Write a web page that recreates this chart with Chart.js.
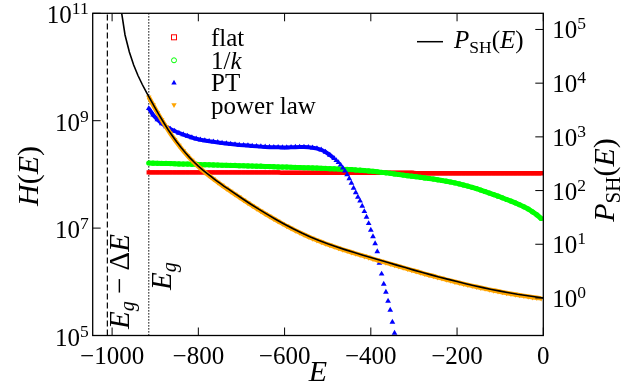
<!DOCTYPE html>
<html>
<head>
<meta charset="UTF-8">
<title>H(E) and P_SH(E)</title>
<script src="https://cdn.jsdelivr.net/npm/chart.js@4.4.1/dist/chart.umd.min.js"></script>
<style>
  html, body { margin: 0; padding: 0; background: #fff; }
  #wrap { width: 635px; height: 385px; }
</style>
</head>
<body>
<div id="wrap"><canvas id="chart" width="635" height="385"></canvas></div>
<script>
// energy grid shared by flat, 1/k and power law
const energy = [-915,-905,-895,-885,-875,-865,-855,-845,-835,-825,-815,-805,-795,-785,-775,-765,-755,-745,-735,-725,
  -715,-705,-695,-685,-675,-665,-655,-645,-635,-625,-615,-605,-595,-585,-575,-565,-555,-545,-535,-525,
  -515,-505,-495,-485,-475,-465,-455,-445,-435,-425,-415,-405,-395,-385,-375,-365,-355,-345,-335,-325,
  -315,-305,-295,-285,-275,-265,-255,-245,-235,-225,-215,-205,-195,-185,-175,-165,-155,-145,-135,-125,
  -115,-105,-95,-85,-75,-65,-55,-45,-35,-25,-15,-5];

const flat = [1.09e8,1.09e8,1.09e8,1.09e8,1.09e8,1.09e8,1.09e8,1.09e8,1.09e8,1.09e8,1.09e8,1.09e8,1.09e8,1.09e8,1.09e8,1.09e8,
  1.09e8,1.09e8,1.09e8,1.09e8,1.09e8,1.09e8,1.09e8,1.09e8,1.09e8,1.09e8,1.09e8,1.09e8,1.09e8,1.09e8,1.09e8,
  1.07e8,1.07e8,1.07e8,1.07e8,1.07e8,1.07e8,1.07e8,1.07e8,1.07e8,1.07e8,1.07e8,1.07e8,1.07e8,1.07e8,1.07e8,1.07e8,
  1.07e8,1.07e8,1.07e8,1.07e8,1.07e8,1.07e8,1.07e8,1.07e8,1.07e8,1.07e8,1.07e8,1.07e8,1.07e8,1.07e8,1.07e8,
  1.05e8,1.05e8,1.05e8,1.05e8,1.05e8,1.05e8,1.05e8,1.05e8,1.05e8,1.05e8,1.05e8,1.05e8,1.05e8,1.05e8,1.05e8,
  1.05e8,1.05e8,1.05e8,1.05e8,1.05e8,1.05e8,1.05e8,1.05e8,1.05e8,1.05e8,1.05e8,1.05e8,1.05e8,1.05e8,1.05e8];

const invK = [1.63e8,1.62e8,1.61e8,1.60e8,1.60e8,1.59e8,1.58e8,1.57e8,1.56e8,1.56e8,
  1.54e8,1.54e8,1.52e8,1.52e8,1.51e8,1.50e8,1.49e8,1.48e8,1.48e8,1.47e8,
  1.47e8,1.45e8,1.45e8,1.44e8,1.43e8,1.42e8,1.42e8,1.40e8,1.40e8,1.39e8,
  1.38e8,1.37e8,1.37e8,1.36e8,1.35e8,1.34e8,1.33e8,1.33e8,1.32e8,1.31e8,
  1.30e8,1.29e8,1.28e8,1.27e8,1.26e8,1.25e8,1.24e8,1.23e8,1.21e8,1.20e8,
  1.18e8,1.16e8,1.14e8,1.12e8,1.09e8,1.07e8,1.05e8,1.02e8,9.96e7,9.70e7,
  9.46e7,9.26e7,9.06e7,8.83e7,8.60e7,8.39e7,8.18e7,7.93e7,7.70e7,7.47e7,
  7.22e7,6.95e7,6.66e7,6.35e7,6.05e7,5.75e7,5.44e7,5.12e7,4.80e7,4.50e7,
  4.21e7,3.93e7,3.67e7,3.41e7,3.18e7,2.95e7,2.72e7,2.49e7,2.27e7,2.01e7,
  1.77e7,1.51e7];

const powerLaw = [2.75e9,1.97e9,1.42e9,1.04e9,7.68e8,5.79e8,4.44e8,3.46e8,2.74e8,2.22e8,
  1.82e8,1.52e8,1.29e8,1.10e8,9.48e7,8.21e7,7.14e7,6.24e7,5.47e7,4.83e7,
  4.26e7,3.76e7,3.33e7,2.94e7,2.61e7,2.32e7,2.07e7,1.85e7,1.66e7,1.49e7,
  1.34e7,1.21e7,1.09e7,9.91e6,9.03e6,8.25e6,7.57e6,6.95e6,6.41e6,5.94e6,
  5.52e6,5.14e6,4.81e6,4.51e6,4.24e6,3.99e6,3.76e6,3.55e6,3.35e6,3.17e6,
  3.00e6,2.84e6,2.68e6,2.54e6,2.40e6,2.28e6,2.16e6,2.05e6,1.94e6,1.84e6,
  1.74e6,1.65e6,1.57e6,1.49e6,1.41e6,1.34e6,1.28e6,1.21e6,1.16e6,1.10e6,
  1.05e6,1.00e6,9.59e5,9.16e5,8.77e5,8.41e5,8.07e5,7.74e5,7.45e5,7.16e5,
  6.90e5,6.65e5,6.41e5,6.19e5,6.00e5,5.81e5,5.64e5,5.47e5,5.31e5,5.16e5,
  5.03e5,4.91e5];

// PT has its own (finer near the drop) energy grid
const ptEnergy = [-915,-905,-895,-885,-875,-865,-855,-845,-835,-825,-815,-805,-795,-785,-775,-765,-755,-745,-735,-725,
  -715,-705,-695,-685,-675,-665,-655,-645,-635,-625,-615,-605,-595,-585,-575,-565,-555,-545,-535,-525,
  -515,-505,-495,-485,
  -480,-475,-470,-465,-460,-455,-450,-445,-440,-435,-430,-425,-420,-415,-410,-405,-400,-395,-390,-385,
  -380,-375,-370,-365,-360,-355,-350,-345];
const pt = [1.69e9,1.28e9,1.05e9,8.87e8,7.80e8,7.00e8,6.43e8,5.90e8,5.53e8,5.19e8,
  4.87e8,4.60e8,4.41e8,4.28e8,4.15e8,4.05e8,3.94e8,3.84e8,3.76e8,3.68e8,
  3.61e8,3.53e8,3.48e8,3.44e8,3.38e8,3.34e8,3.29e8,3.25e8,3.22e8,3.20e8,
  3.19e8,3.17e8,3.17e8,3.20e8,3.22e8,3.24e8,3.24e8,3.20e8,3.13e8,3.04e8,
  2.87e8,2.61e8,2.30e8,1.98e8,
  1.82e8,1.67e8,1.50e8,1.32e8,1.16e8,9.96e7,8.39e7,6.92e7,5.58e7,4.60e7,3.79e7,3.20e7,2.58e7,2.04e7,
  1.61e7,1.22e7,9.22e6,6.98e6,5.17e6,3.67e6,2.24e6,1.40e6,9.10e5,6.46e5,4.39e5,2.98e5,1.78e5,1.11e5];

// P_SH(E), right axis
const shEnergy = [-1000,-990,-980,-970,-960,-950,-940,-930,-920,-910,-900,-890,-880,-870,-860,-850,-840,-830,-820,-810,
  -800,-790,-780,-770,-760,-750,-740,-730,-720,
  -700,-680,-660,-640,-620,-600,-580,-560,-540,-520,-500,-480,-460,-440,-420,-400,-380,-360,-340,-320,
  -300,-280,-260,-240,-220,-200,-180,-160,-140,-120,-100,-80,-60,-40,-20,0];
const pSH = [1.0e7,1.17e6,2.62e5,7.89e4,3.80e4,2.18e4,1.39e4,9.44e3,6.70e3,4.78e3,3.44e3,2.49e3,1.83e3,1.36e3,1.04e3,802,631,505,411,340,
  286,244,210,181,157,137,120,106,93.2,
  72.7,56.9,45.0,36.0,29.0,23.6,19.4,16.2,13.7,11.75,10.2,8.97,7.95,7.09,6.34,5.67,5.07,4.56,4.09,3.68,
  3.30,2.98,2.69,2.44,2.22,2.02,1.84,1.69,1.56,1.44,1.34,1.25,1.17,1.11,1.05,1.00];

const Eg = -915;      // dotted line
const Eshift = -1011; // Eg - dE, dashed line

const xTicks = [-1000, -800, -600, -400, -200, 0];
const xTickLabels = ['\u22121000', '\u2212800', '\u2212600', '\u2212400', '\u2212200', '0'];
const leftExp = [5, 7, 9, 11];
const rightExp = [0, 1, 2, 3, 4, 5];

const SERIF = '"Liberation Serif", "DejaVu Serif", serif';

function pts(xs, ys) {
  return xs.map((x, i) => ({ x: x, y: ys[i] }));
}

function fontOf(p) {
  return (p.it ? 'italic ' : '') + p.s + 'px ' + SERIF;
}
function richWidth(ctx, parts) {
  let w = 0;
  parts.forEach(p => { ctx.font = fontOf(p); w += ctx.measureText(p.t).width; });
  return w;
}
// draws text made of several runs (italic, sub/superscripts)
function drawRich(ctx, parts, x, y, align) {
  const w = richWidth(ctx, parts);
  let cx = align === 'right' ? x - w : (align === 'center' ? x - w / 2 : x);
  ctx.textAlign = 'left';
  ctx.textBaseline = 'alphabetic';
  parts.forEach(p => {
    ctx.font = fontOf(p);
    ctx.fillText(p.t, cx, y + (p.dy || 0));
    cx += ctx.measureText(p.t).width;
  });
}
function drawRotated(ctx, parts, x, y, align) {
  ctx.save();
  ctx.translate(x, y);
  ctx.rotate(-Math.PI / 2);
  drawRich(ctx, parts, 0, 0, align);
  ctx.restore();
}

const decor = {
  id: 'decor',
  afterDraw(chart) {
    const ctx = chart.ctx;
    const a = chart.chartArea;
    const sx = chart.scales.x, sy = chart.scales.y, sy1 = chart.scales.y1;
    ctx.save();
    ctx.fillStyle = '#000';
    ctx.strokeStyle = '#000';

    // frame
    ctx.lineWidth = 1.3;
    ctx.strokeRect(a.left, a.top, a.right - a.left, a.bottom - a.top);

    // ticks (inward)
    ctx.lineWidth = 1;
    ctx.beginPath();
    xTicks.forEach(v => {
      const px = sx.getPixelForValue(v);
      ctx.moveTo(px, a.bottom); ctx.lineTo(px, a.bottom - 8);
      ctx.moveTo(px, a.top); ctx.lineTo(px, a.top + 8);
    });
    leftExp.forEach(e => {
      const py = sy.getPixelForValue(Math.pow(10, e));
      ctx.moveTo(a.left, py); ctx.lineTo(a.left + 8, py);
    });
    rightExp.forEach(e => {
      const py = sy1.getPixelForValue(Math.pow(10, e));
      ctx.moveTo(a.right, py); ctx.lineTo(a.right - 8, py);
    });
    ctx.stroke();

    // tick labels
    xTicks.forEach((v, i) => {
      drawRich(ctx, [{ t: xTickLabels[i], s: 25 }], sx.getPixelForValue(v), a.bottom + 28, 'center');
    });
    leftExp.forEach(e => {
      const py = sy.getPixelForValue(Math.pow(10, e));
      drawRich(ctx, [{ t: '10', s: 25 }, { t: String(e), s: 17.5, dy: -9 }], a.left - 4, py + 10, 'right');
    });
    rightExp.forEach(e => {
      const py = sy1.getPixelForValue(Math.pow(10, e));
      drawRich(ctx, [{ t: '10', s: 25 }, { t: String(e), s: 17.5, dy: -9 }], a.right + 9, py + 9, 'left');
    });

    // axis titles
    drawRotated(ctx, [{ t: 'H', s: 30, it: true }, { t: '(', s: 30 }, { t: 'E', s: 30, it: true }, { t: ')', s: 30 }], 38, 176, 'center');
    drawRich(ctx, [{ t: 'E', s: 30, it: true }], 318, 381, 'center');
    drawRotated(ctx, [{ t: 'P', s: 30, it: true }, { t: 'SH', s: 21, dy: 6 }, { t: '(', s: 30 }, { t: 'E', s: 30, it: true }, { t: ')', s: 30 }], 614, 180, 'center');

    // line annotations
    drawRotated(ctx, [{ t: 'E', s: 29, it: true }, { t: 'g', s: 20, it: true, dy: 5 }, { t: ' \u2212 \u0394', s: 29 }, { t: 'E', s: 29, it: true }],
      sx.getPixelForValue(Eshift) + 22, 329, 'left');
    drawRotated(ctx, [{ t: 'E', s: 29, it: true }, { t: 'g', s: 20, it: true, dy: 5 }],
      sx.getPixelForValue(Eg) + 22, 290, 'left');

    // legend (upper left)
    const lx = 174, tx = 211;
    const rows = [37.3, 60.3, 82.7, 105];
    ctx.lineWidth = 1;
    ctx.strokeStyle = '#ff0000';
    ctx.strokeRect(lx - 2.5, rows[0] - 2.5, 5, 5);
    ctx.strokeStyle = '#00ff00';
    ctx.beginPath(); ctx.arc(lx, rows[1], 2.5, 0, Math.PI * 2); ctx.stroke();
    ctx.fillStyle = '#0000ff';
    ctx.beginPath(); ctx.moveTo(lx, rows[2] - 3); ctx.lineTo(lx + 2.7, rows[2] + 1.8); ctx.lineTo(lx - 2.7, rows[2] + 1.8); ctx.closePath(); ctx.fill();
    ctx.fillStyle = '#ffa500';
    ctx.beginPath(); ctx.moveTo(lx, rows[3] + 3); ctx.lineTo(lx + 2.7, rows[3] - 1.8); ctx.lineTo(lx - 2.7, rows[3] - 1.8); ctx.closePath(); ctx.fill();
    ctx.fillStyle = '#000';
    drawRich(ctx, [{ t: 'flat', s: 25 }], tx, rows[0] + 8.5, 'left');
    drawRich(ctx, [{ t: '1/', s: 25 }, { t: 'k', s: 25, it: true }], tx, rows[1] + 8.5, 'left');
    drawRich(ctx, [{ t: 'PT', s: 25 }], tx, rows[2] + 8.5, 'left');
    drawRich(ctx, [{ t: 'power law', s: 25 }], tx, rows[3] + 8.5, 'left');

    // legend (upper right)
    ctx.strokeStyle = '#000';
    ctx.lineWidth = 1.5;
    ctx.beginPath(); ctx.moveTo(417, 41.7); ctx.lineTo(443, 41.7); ctx.stroke();
    drawRich(ctx, [{ t: 'P', s: 25, it: true }, { t: 'SH', s: 17.5, dy: 5 }, { t: '(', s: 25 }, { t: 'E', s: 25, it: true }, { t: ')', s: 25 }], 454, 47.5, 'left');

    ctx.restore();
  }
};

const hiddenAxis = {
  grid: { display: false, drawTicks: false },
  ticks: { display: false },
  border: { display: false }
};

// dense markers in the original merge into bands; a band line fills the gaps
new Chart(document.getElementById('chart').getContext('2d'), {
  type: 'scatter',
  data: {
    datasets: [
      {
        label: 'P_SH(E)', yAxisID: 'y1', data: pts(shEnergy, pSH), showLine: true,
        borderColor: '#000', borderWidth: 1.6, pointRadius: 0, order: 1
      },
      {
        label: 'power law', data: pts(energy, powerLaw), pointStyle: 'triangle', rotation: 180,
        showLine: true, borderColor: '#ffa500', borderWidth: 4.5,
        pointRadius: 3.2, pointBackgroundColor: '#ffa500', pointBorderColor: '#ffa500', pointBorderWidth: 0, order: 2
      },
      {
        label: 'PT', data: pts(ptEnergy, pt), pointStyle: 'triangle',
        showLine: true, borderColor: '#0000ff', borderWidth: 4,
        segment: { borderColor: c => (c.p0.parsed.x >= -485 ? 'rgba(0,0,0,0)' : '#0000ff') },
        pointRadius: 3.3, pointBackgroundColor: '#0000ff', pointBorderColor: '#0000ff', pointBorderWidth: 0, order: 3
      },
      {
        label: '1/k', data: pts(energy, invK), pointStyle: 'circle',
        showLine: true, borderColor: '#00ff00', borderWidth: 5,
        pointRadius: 2.6, pointBackgroundColor: '#00ff00', pointBorderColor: '#00ff00', pointBorderWidth: 0, order: 4
      },
      {
        label: 'flat', data: pts(energy, flat), pointStyle: 'rect',
        showLine: true, borderColor: '#ff0000', borderWidth: 4.4,
        pointRadius: 3.1, pointBackgroundColor: '#ff0000', pointBorderColor: '#ff0000', pointBorderWidth: 0, order: 5
      },
      {
        label: 'Eg-dE', data: [{ x: Eshift, y: 1e5 }, { x: Eshift, y: 1e11 }], showLine: true,
        borderColor: '#000', borderWidth: 1.2, borderDash: [6, 3], pointRadius: 0, order: 6
      },
      {
        label: 'Eg', data: [{ x: Eg, y: 1e5 }, { x: Eg, y: 1e11 }], showLine: true,
        borderColor: '#000', borderWidth: 1.2, borderDash: [1.2, 1.8], pointRadius: 0, order: 6
      }
    ]
  },
  options: {
    responsive: false,
    animation: false,
    layout: { padding: { left: 92.7, right: 91.7, top: 13.3, bottom: 49.5 } },
    plugins: { legend: { display: false }, tooltip: { enabled: false } },
    scales: {
      x: Object.assign({ type: 'linear', min: -1045, max: 0 }, hiddenAxis),
      y: Object.assign({ type: 'logarithmic', position: 'left', min: 1e5, max: 1e11 }, hiddenAxis),
      y1: Object.assign({ type: 'logarithmic', position: 'right', min: 0.2, max: 2e5 }, hiddenAxis)
    }
  },
  plugins: [decor]
});
</script>
</body>
</html>
